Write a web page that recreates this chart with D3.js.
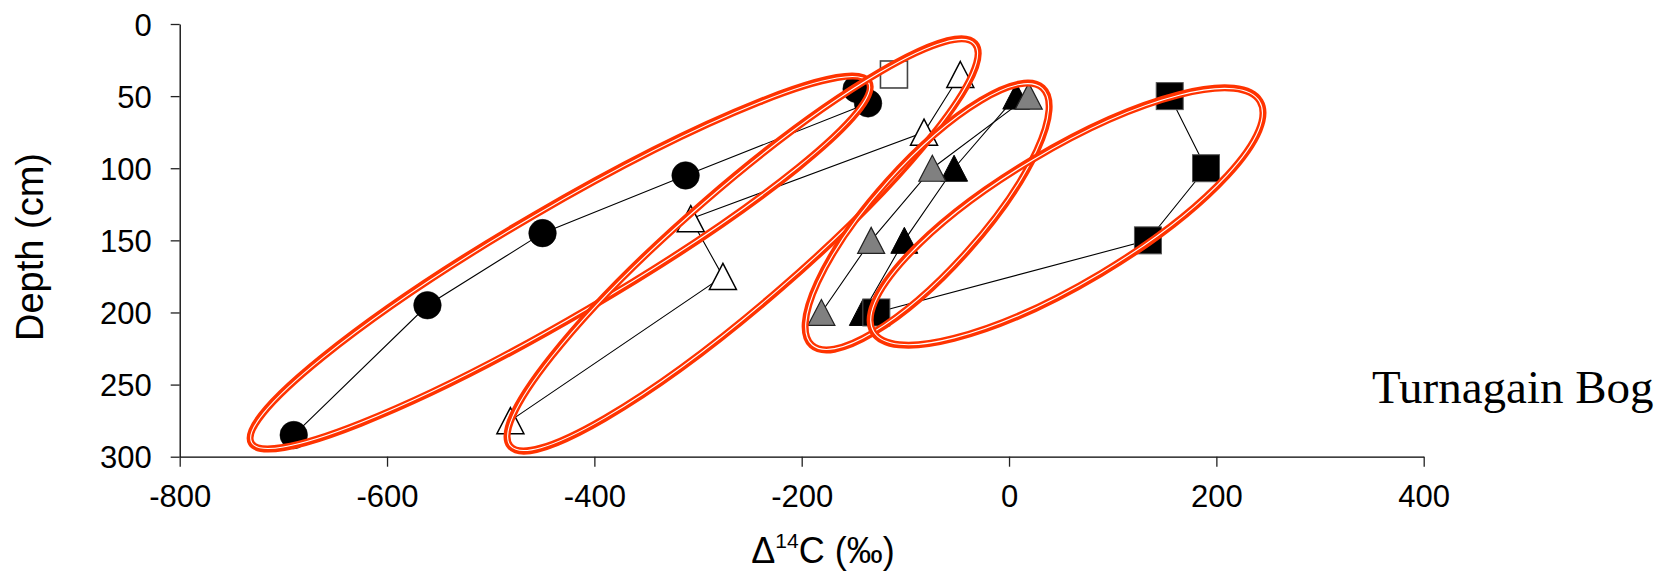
<!DOCTYPE html>
<html>
<head>
<meta charset="utf-8">
<script src="https://cdn.jsdelivr.net/npm/d3@7/dist/d3.min.js"></script>
<style>
html,body{margin:0;padding:0;background:#fff;}
svg{display:block;}
</style>
</head>
<body>
<svg id="chart" width="1666" height="572"></svg>
<script>
// ---- data (Δ14C ‰, depth cm) ----
const xTicks = [-800, -600, -400, -200, 0, 200, 400];
const yTicks = [0, 50, 100, 150, 200, 250, 300];

const blackCircleX = [-147, -136, -312, -450, -561, -690];
const blackCircleY = [45, 55, 105, 145, 195, 285];

const openTriangleX = [-47, -82, -307, -276, -481];
const openTriangleY = [35, 75, 135, 175, 275];

const openSquareX = [-111];
const openSquareY = [35];

const blackTriangleX = [7, -53, -101, -141];
const blackTriangleY = [50, 100, 150, 200];

const grayTriangleX = [19, -74, -133, -181];
const grayTriangleY = [50, 100, 150, 200];

const blackSquareX = [155, 190, 134, -128];
const blackSquareY = [50, 100, 150, 200];

// ellipse annotations: centre in data units
const ellipseCX = [-433, -257, -79, 55.5];
const ellipseCY = [165.4, 153.2, 133.5, 133.5];

const siteName = "Turnagain Bog";

// ---- layout ----
const svg = d3.select("#chart");
const x = d3.scaleLinear().domain([-800, 400]).range([179.7, 1423.7]);
const y = d3.scaleLinear().domain([0, 300]).range([24, 456.7]);
const FONT = "'Liberation Sans', Arial, Helvetica, sans-serif";
const fmt = d => String(d);

// axes
const yAxis = d3.axisLeft(y).tickValues(yTicks).tickFormat(fmt).tickSize(9).tickSizeOuter(0).tickPadding(19);
const xAxis = d3.axisBottom(x).tickValues(xTicks).tickFormat(fmt).tickSize(10).tickSizeOuter(0).tickPadding(18);

const gy = svg.append("g").attr("transform", `translate(${x(-800)},0)`).call(yAxis);
const gx = svg.append("g").attr("transform", `translate(0,${y(300)})`).call(xAxis);
[gx, gy].forEach(g => {
  g.select(".domain").attr("stroke", "#000").attr("stroke-width", 1.3);
  g.selectAll(".tick line").attr("stroke", "#222").attr("stroke-width", 1.3);
  g.selectAll(".tick text").attr("fill", "#000").style("font-family", FONT).style("font-size", "31px");
});
gy.selectAll(".tick text").attr("dy", "0.36em");
gx.selectAll(".tick text").attr("dy", "0.71em");

// axis titles
svg.append("text")
  .attr("transform", `translate(42.7,247) rotate(-90)`)
  .attr("text-anchor", "middle")
  .style("font-family", FONT).style("font-size", "38px")
  .text("Depth (cm)");

const xt = svg.append("text")
  .attr("x", 823).attr("y", 563)
  .attr("text-anchor", "middle")
  .style("font-family", FONT).style("font-size", "36px");
xt.append("tspan").text("Δ");
xt.append("tspan").attr("dy", -15).style("font-size", "21px").text("14");
xt.append("tspan").attr("dy", 15).text("C (‰)");

// site label
svg.append("text")
  .attr("x", 1372).attr("y", 403)
  .style("font-family", "'Liberation Serif', 'Times New Roman', serif")
  .style("font-size", "47px")
  .text(siteName);

// ---- series ----
function pts(xs, ys) { return xs.map((v, i) => ({x: v, y: ys[i]})); }
const line = d3.line().x(d => x(d.x)).y(d => y(d.y));

const series = [
  {data: pts(blackCircleX, blackCircleY), shape: "circle", fill: "#000", stroke: "#000", sw: 0.5, line: true},
  {data: pts(openTriangleX, openTriangleY), shape: "triangle", fill: "#fff", stroke: "#000", sw: 1.5, line: true},
  {data: pts(openSquareX, openSquareY), shape: "square", fill: "#fff", stroke: "#444", sw: 1.6, line: false},
  {data: pts(blackTriangleX, blackTriangleY), shape: "triangle", fill: "#000", stroke: "#000", sw: 1, line: true},
  {data: pts(grayTriangleX, grayTriangleY), shape: "triangle", fill: "#808080", stroke: "#222", sw: 1.2, line: true},
  {data: pts(blackSquareX, blackSquareY), shape: "square", fill: "#000", stroke: "#555", sw: 1, line: true}
];

const plot = svg.append("g");
series.forEach(s => {
  if (s.line) {
    plot.append("path").datum(s.data).attr("d", line)
      .attr("fill", "none").attr("stroke", "#000").attr("stroke-width", 1.1);
  }
});

const triPath = "M0,-13 L13.5,13 L-13.5,13 Z";
series.forEach(s => {
  const g = plot.append("g");
  if (s.shape === "circle") {
    g.selectAll("circle").data(s.data).join("circle")
      .attr("cx", d => x(d.x)).attr("cy", d => y(d.y)).attr("r", 13.8)
      .attr("fill", s.fill).attr("stroke", s.stroke).attr("stroke-width", s.sw);
  } else if (s.shape === "square") {
    g.selectAll("rect").data(s.data).join("rect")
      .attr("x", d => x(d.x) - 13.5).attr("y", d => y(d.y) - 13.5)
      .attr("width", 27).attr("height", 27)
      .attr("fill", s.fill).attr("stroke", s.stroke).attr("stroke-width", s.sw);
  } else {
    g.selectAll("path").data(s.data).join("path")
      .attr("d", triPath)
      .attr("transform", d => `translate(${x(d.x)},${y(d.y)})`)
      .attr("fill", s.fill).attr("stroke", s.stroke).attr("stroke-width", s.sw)
      .attr("stroke-linejoin", "miter");
  }
});

// ---- ellipse annotations (double red line) ----
const ellipseA = [357.7, 307.5, 172.8, 225.2];
const ellipseB = [54, 57.8, 53.2, 66.5];
const ellipseAngle = [30.3, 40.9, 48.1, 30.8];
const ell = svg.append("g");
ellipseCX.forEach((cx, i) => {
  const g = ell.append("g")
    .attr("transform", `translate(${x(cx)},${y(ellipseCY[i])}) rotate(${-ellipseAngle[i]})`);
  g.append("ellipse").attr("rx", ellipseA[i]).attr("ry", ellipseB[i])
    .attr("fill", "none").attr("stroke", "#FF3300").attr("stroke-width", 7);
  g.append("ellipse").attr("rx", ellipseA[i] - 0.6).attr("ry", ellipseB[i] - 0.6)
    .attr("fill", "none").attr("stroke", "#fff").attr("stroke-width", 1.1);
});
</script>
</body>
</html>
